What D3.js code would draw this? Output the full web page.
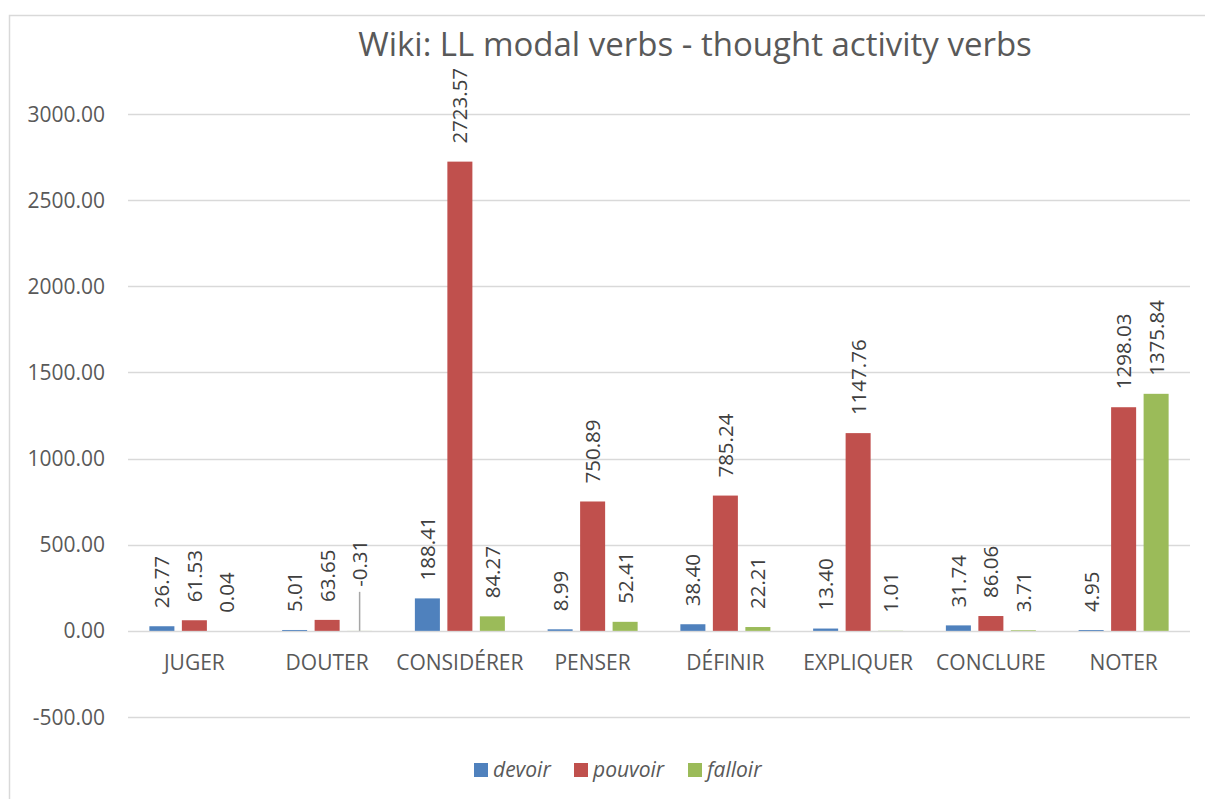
<!DOCTYPE html>
<html>
<head>
<meta charset="utf-8">
<script src="https://cdn.jsdelivr.net/npm/d3@7"></script>
<style>
  body { margin: 0; background: #fff; }
  text { font-family: "Open Sans", sans-serif; fill: #595959; }
</style>
</head>
<body>
<svg id="chart" width="1205" height="799"></svg>
<script>
var categories = ["JUGER", "DOUTER", "CONSIDÉRER", "PENSER", "DÉFINIR", "EXPLIQUER", "CONCLURE", "NOTER"];
var seriesNames = ["devoir", "pouvoir", "falloir"];
var devoir = [26.77, 5.01, 188.41, 8.99, 38.40, 13.40, 31.74, 4.95];
var pouvoir = [61.53, 63.65, 2723.57, 750.89, 785.24, 1147.76, 86.06, 1298.03];
var falloir = [0.04, -0.31, 84.27, 52.41, 22.21, 1.01, 3.71, 1375.84];
var yTicks = [-500, 0, 500, 1000, 1500, 2000, 2500, 3000];

var colors = ["#4F81BD", "#C0504D", "#9BBB59"];
var values = [devoir, pouvoir, falloir];

// excel style: plain hyphen for negatives
function fmt(v) { return d3.format(".2f")(v).replace("\u2212", "-"); }

var svg = d3.select("#chart");

// chart frame (runs off the right/bottom edge like the screenshot)
svg.append("rect")
    .attr("x", 9.5).attr("y", 15.5)
    .attr("width", 1400).attr("height", 900)
    .attr("fill", "#fff").attr("stroke", "#D9D9D9").attr("stroke-width", 1.5);

var x = d3.scaleBand().domain(categories).range([128, 1190]);
var xs = d3.scaleBand().domain(seriesNames).range([-45, 45]).paddingInner(0.23);
var y = d3.scaleLinear().domain([-500, 3000]).range([717, 114]);

svg.append("text")
    .attr("x", 695).attr("y", 56)
    .attr("text-anchor", "middle")
    .style("font-size", "33px")
    .text("Wiki: LL modal verbs - thought activity verbs");

// gridlines
svg.append("g").selectAll("line")
    .data(yTicks)
  .enter().append("line")
    .attr("x1", 128).attr("x2", 1190)
    .attr("y1", function(d) { return Math.round(y(d)) + 0.5; })
    .attr("y2", function(d) { return Math.round(y(d)) + 0.5; })
    .attr("stroke", "#D9D9D9").attr("stroke-width", 1.5);

svg.append("g").selectAll("text")
    .data(yTicks)
  .enter().append("text")
    .attr("x", 105)
    .attr("y", function(d) { return y(d); })
    .attr("dy", "0.36em")
    .attr("text-anchor", "end")
    .style("font-size", "21px")
    .text(fmt);

svg.append("g").selectAll("text")
    .data(categories)
  .enter().append("text")
    .attr("x", function(d) { return x(d) + x.bandwidth() / 2; })
    .attr("y", 670)
    .attr("text-anchor", "middle")
    .style("font-size", "21px")
    .text(function(d) { return d; });

// bars + labels
var points = [];
seriesNames.forEach(function(s, si) {
  categories.forEach(function(c, ci) {
    points.push({ series: s, si: si, cat: c, value: values[si][ci] });
  });
});

function cx(d) { return x(d.cat) + x.bandwidth() / 2 + xs(d.series) + xs.bandwidth() / 2; }

svg.append("g").selectAll("rect")
    .data(points)
  .enter().append("rect")
    .attr("x", function(d) { return x(d.cat) + x.bandwidth() / 2 + xs(d.series); })
    .attr("width", xs.bandwidth())
    .attr("y", function(d) { return y(Math.max(0, d.value)); })
    .attr("height", function(d) { return Math.abs(y(d.value) - y(0)); })
    .attr("fill", function(d) { return colors[d.si]; });

// leader line for the negative label that got pulled up
svg.append("g").selectAll("line")
    .data(points.filter(function(d) { return d.value < 0; }))
  .enter().append("line")
    .attr("x1", cx).attr("x2", cx)
    .attr("y1", y(0)).attr("y2", y(0) - 39)
    .attr("stroke", "#A6A6A6").attr("stroke-width", 1.5);

svg.append("g").selectAll("text")
    .data(points)
  .enter().append("text")
    .attr("transform", function(d) {
      var top = d.value < 0 ? y(0) - 44 : y(d.value) - 18;
      return "translate(" + cx(d) + "," + top + ") rotate(-90)";
    })
    .attr("dy", "0.36em")
    .style("fill", "#404040")
    .style("font-size", "20.5px")
    .text(function(d) { return fmt(d.value); });

// legend
var legendX = [474, 574, 688];
var legend = svg.append("g").selectAll("g")
    .data(seriesNames)
  .enter().append("g")
    .attr("transform", function(d, i) { return "translate(" + legendX[i] + ",763)"; });
legend.append("rect")
    .attr("width", 14).attr("height", 14)
    .attr("fill", function(d, i) { return colors[i]; });
legend.append("text")
    .attr("x", 19).attr("y", 14)
    .style("font-size", "21px")
    .style("font-style", "italic")
    .text(function(d) { return d; });
</script>
</body>
</html>
